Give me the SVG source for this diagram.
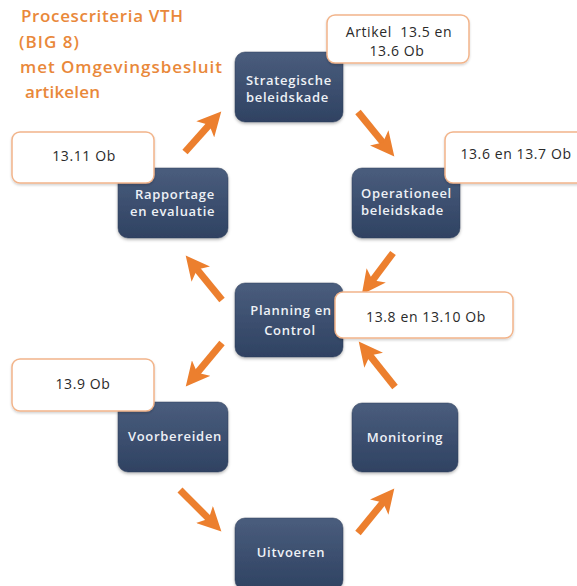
<svg xmlns="http://www.w3.org/2000/svg" width="577" height="586" viewBox="0 0 577 586">
<style>
.title{font-family:"Open Sans","Liberation Sans",sans-serif;font-size:17px;font-weight:600;fill:#e9883a}
.node rect{fill:url(#ng);stroke:#2c3c58;stroke-width:0.5;filter:url(#sh)}
.nt{font-family:"Open Sans","Liberation Sans",sans-serif;font-size:13px;font-weight:600;fill:#eef1f6;letter-spacing:0.7px}
.lbl rect{fill:#ffffff;stroke:#f2b48a;stroke-width:1.5;filter:url(#sh2)}
.lt{font-family:"Open Sans","Liberation Sans",sans-serif;font-size:14px;fill:#2a2a2a;text-anchor:middle;letter-spacing:0.6px;white-space:pre}
.conn line{stroke:#ec7f2e;stroke-width:7;marker-end:url(#ah)}
</style>
<defs>
<linearGradient id="ng" x1="0" y1="0" x2="0" y2="1">
<stop offset="0" stop-color="#4a5d7d"/>
<stop offset="1" stop-color="#2f4262"/>
</linearGradient>
<filter id="sh" x="-10%" y="-10%" width="120%" height="125%">
<feDropShadow dx="0" dy="1.5" stdDeviation="1.5" flood-color="#000000" flood-opacity="0.3"/>
</filter>
<filter id="sh2" x="-10%" y="-10%" width="120%" height="130%">
<feDropShadow dx="0" dy="1.5" stdDeviation="1.2" flood-color="#000000" flood-opacity="0.18"/>
</filter>
<marker id="ah" markerUnits="userSpaceOnUse" viewBox="0 0 25 24" refX="8" refY="12" markerWidth="25" markerHeight="24" orient="auto">
<path d="M0,0 L24,12 L0,24 L6,12 z" fill="#ec7f2e"/>
</marker>
<clipPath id="c1"><rect x="235" y="52" width="108" height="70" rx="10"/></clipPath>
<clipPath id="c2"><rect x="118" y="168" width="110" height="70" rx="10"/></clipPath>
<clipPath id="c3"><rect x="352" y="168" width="108" height="70" rx="10"/></clipPath>
</defs>
<rect width="577" height="586" fill="#ffffff"/>
<g id="title">
<text class="title" x="21" y="22" textLength="162" lengthAdjust="spacing">Procescriteria VTH</text>
<text class="title" x="19" y="48" textLength="60" lengthAdjust="spacing">(BIG 8)</text>
<text class="title" x="20" y="73" textLength="202" lengthAdjust="spacing">met Omgevingsbesluit</text>
<text class="title" x="25" y="98" textLength="75" lengthAdjust="spacing">artikelen</text>
</g>
<g class="conn" id="connectors">
<line x1="185" y1="152" x2="210.6" y2="123.4"/>
<line x1="358" y1="112" x2="384.2" y2="144.1"/>
<line x1="393" y1="253" x2="371.4" y2="281.8"/>
<line x1="395" y1="387" x2="368.7" y2="354"/>
<line x1="222" y1="343" x2="196" y2="374.2"/>
<line x1="222" y1="300" x2="195.8" y2="267.9"/>
<line x1="180" y1="490" x2="210.1" y2="520.1"/>
<line x1="358" y1="533" x2="384.2" y2="500.9"/>
</g>
<g class="node" id="strategische">
<rect x="235" y="52" width="108" height="70" rx="10"/>
<g clip-path="url(#c1)">
<text class="nt" x="246" y="85">Strategische</text>
<text class="nt" x="246" y="102">beleidskade</text>
</g>
</g>
<g class="node" id="rapportage">
<rect x="118" y="168" width="110" height="70" rx="10"/>
<g clip-path="url(#c2)">
<text class="nt" x="135" y="199">Rapportage</text>
<text class="nt" x="130" y="216">en evaluatie</text>
</g>
</g>
<g class="node" id="operationeel">
<rect x="352" y="168" width="108" height="70" rx="10"/>
<g clip-path="url(#c3)">
<text class="nt" x="361" y="198">Operationeel</text>
<text class="nt" x="361" y="215">beleidskade</text>
</g>
</g>
<g class="node" id="planning">
<rect x="235" y="283" width="108" height="74" rx="10"/>
<text class="nt" x="291" y="315" text-anchor="middle">Planning en</text>
<text class="nt" x="290" y="335" text-anchor="middle">Control</text>
</g>
<g class="node" id="voorbereiden">
<rect x="118" y="402" width="110" height="70" rx="10"/>
<text class="nt" x="175" y="441" text-anchor="middle">Voorbereiden</text>
</g>
<g class="node" id="monitoring">
<rect x="352" y="403" width="106" height="69" rx="10"/>
<text class="nt" x="405" y="442" text-anchor="middle">Monitoring</text>
</g>
<g class="node" id="uitvoeren">
<rect x="235" y="518" width="108" height="72" rx="10"/>
<text class="nt" x="291" y="557" text-anchor="middle">Uitvoeren</text>
</g>
<g class="lbl" id="lbl-artikel">
<rect x="327" y="15" width="142" height="48" rx="8"/>
<text class="lt" x="399" y="37">Artikel  13.5 en</text>
<text class="lt" x="397" y="56">13.6 Ob</text>
</g>
<g class="lbl" id="lbl-1311">
<rect x="12" y="132" width="142" height="51" rx="8"/>
<text class="lt" x="84" y="161">13.11 Ob</text>
</g>
<g class="lbl" id="lbl-136">
<rect x="445" y="132" width="140" height="51" rx="8"/>
<text class="lt" x="516" y="159">13.6 en 13.7 Ob</text>
</g>
<g class="lbl" id="lbl-138">
<rect x="335" y="292" width="178" height="46" rx="8"/>
<text class="lt" x="426" y="322">13.8 en 13.10 Ob</text>
</g>
<g class="lbl" id="lbl-139">
<rect x="12" y="359" width="142" height="52" rx="8"/>
<text class="lt" x="83" y="389">13.9 Ob</text>
</g>
</svg>
